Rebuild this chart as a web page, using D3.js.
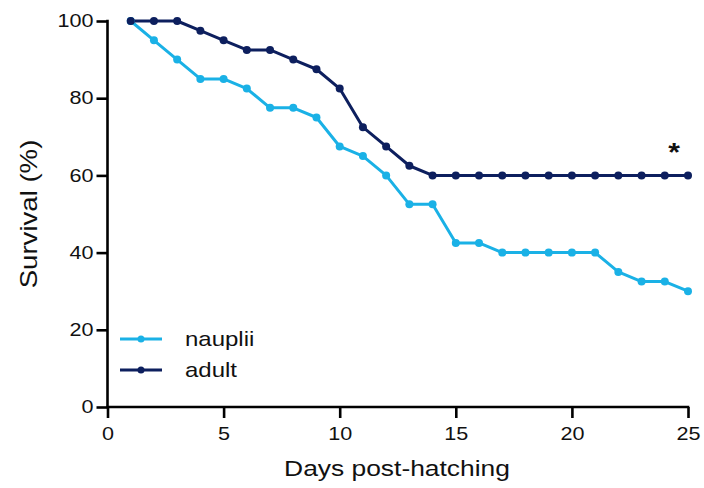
<!DOCTYPE html>
<html><head><meta charset="utf-8">
<script src="https://cdn.jsdelivr.net/npm/d3@7"></script>
<style>body{margin:0;background:#fff}svg{display:block}text{font-family:Arial,"Liberation Sans",sans-serif;fill:#111}</style>
</head><body>
<script>
const days = d3.range(1, 26);
const nauplii = [100,95,90,85,85,82.5,77.5,77.5,75,67.5,65,60,52.5,52.5,42.5,42.5,40,40,40,40,40,35,32.5,32.5,30];
const adult = [100,100,100,97.5,95,92.5,92.5,90,87.5,82.5,72.5,67.5,62.5,60,60,60,60,60,60,60,60,60,60,60,60];
const xTicks = [0,5,10,15,20,25];
const yTicks = [0,20,40,60,80,100];
const seriesNames = ["nauplii","adult"];
const colors = ["#1ab1e6","#0d1f5e"];

const W=704,H=488, SX=1.2;
const svg=d3.select("body").append("svg").attr("width",W).attr("height",H);
const x=d3.scaleLinear().domain([0,25]).range([107.5,688]);
const y=d3.scaleLinear().domain([0,100]).range([407,21]);

const gx=svg.append("g").attr("transform",`translate(0,${y(0)})`)
  .call(d3.axisBottom(x).tickValues(xTicks).tickSize(11).tickPadding(9).tickSizeOuter(0));
const gy=svg.append("g").attr("transform",`translate(${x(0)},0)`)
  .call(d3.axisLeft(y).tickValues(yTicks).tickSize(11).tickPadding(3).tickSizeOuter(0));
[gx,gy].forEach(g=>{
  g.select(".domain").attr("stroke","#000").attr("stroke-width",2.6);
  g.selectAll(".tick line").attr("stroke","#000").attr("stroke-width",2.6);
  g.selectAll(".tick text").style("font-size","18px").style("font-family","Arial, 'Liberation Sans', sans-serif").attr("fill","#111")
    .each(function(){
      const t=d3.select(this); const tx=+t.attr("x")||0; const ty=+t.attr("y")||0;
      t.attr("x",0).attr("y",0).attr("transform",`translate(${tx},${ty}) scale(${SX},1)`);
    });
});
gx.select(".domain").attr("d",`M${x(0)-1},0H${x(25)+1.3}`);
gy.select(".domain").attr("d",`M0,${y(100)-1.3}V${y(0)}`);

const data=[nauplii,adult];
const line=d3.line().x((d,i)=>x(days[i])).y(d=>y(d));
data.forEach((s,k)=>{
  svg.append("path").datum(s).attr("d",line).attr("fill","none")
    .attr("stroke",colors[k]).attr("stroke-width",3).attr("stroke-linejoin","round");
});
data.forEach((s,k)=>{
  svg.append("g").selectAll("circle").data(s).join("circle")
    .attr("cx",(d,i)=>x(days[i])).attr("cy",d=>y(d)).attr("r",4).attr("fill",colors[k]);
});

// legend
const leg=svg.append("g");
seriesNames.forEach((n,k)=>{
  const ly=339+k*31;
  leg.append("line").attr("x1",120).attr("x2",162).attr("y1",ly).attr("y2",ly).attr("stroke",colors[k]).attr("stroke-width",3);
  leg.append("circle").attr("cx",141).attr("cy",ly).attr("r",3.5).attr("fill",colors[k]);
  leg.append("text").attr("transform",`translate(185,${ly+7}) scale(${SX},1)`).style("font-size","20px").text(n);
});

svg.append("text").attr("transform",`translate(674,161) scale(${SX},1)`).attr("text-anchor","middle").style("font-size","25px").style("font-weight","bold").text("*");

svg.append("text").attr("transform",`translate(397,476) scale(${SX},1)`).attr("text-anchor","middle").style("font-size","22px").text("Days post-hatching");
svg.append("text").attr("transform",`translate(37,214) rotate(-90) scale(${SX},1)`).attr("text-anchor","middle").style("font-size","23px").text("Survival (%)");
</script>
</body></html>
